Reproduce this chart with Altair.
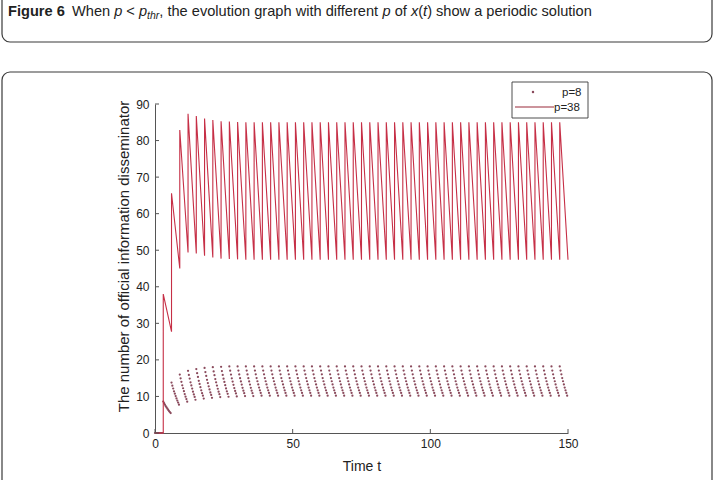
import altair as alt
import pandas as pd

# ---------------- data ----------------
# impulse times (period 3), series runs from t=0 to t=150
IMPULSE_TIMES = [3, 6, 9, 12, 15, 18, 21, 24, 27, 30, 33, 36, 39, 42, 45, 48, 51, 54, 57, 60,
                 63, 66, 69, 72, 75, 78, 81, 84, 87, 90, 93, 96, 99, 102, 105, 108, 111, 114,
                 117, 120, 123, 126, 129, 132, 135, 138, 141, 144, 147]

# p = 38 : value right after each impulse (peak) and right before the next one (trough)
PEAKS_38 = [38.0, 65.6, 82.9, 87.3, 86.7, 86.0, 85.6, 85.3, 85.2, 85.1,
            85.0, 85.0, 85.0, 85.0, 85.0, 85.0, 85.0, 85.0, 85.0, 85.0,
            85.0, 85.0, 85.0, 85.0, 85.0, 85.0, 85.0, 85.0, 85.0, 85.0,
            85.0, 85.0, 85.0, 85.0, 85.0, 85.0, 85.0, 85.0, 85.0, 85.0,
            85.0, 85.0, 85.0, 85.0, 85.0, 85.0, 85.0, 85.0, 85.0]
TROUGHS_38 = [27.7, 45.0, 49.4, 49.1, 48.5, 48.0, 47.7, 47.6, 47.5, 47.4,
              47.4, 47.4, 47.4, 47.4, 47.4, 47.4, 47.4, 47.4, 47.4, 47.4,
              47.4, 47.4, 47.4, 47.4, 47.4, 47.4, 47.4, 47.4, 47.4, 47.4,
              47.4, 47.4, 47.4, 47.4, 47.4, 47.4, 47.4, 47.4, 47.4, 47.4,
              47.4, 47.4, 47.4, 47.4, 47.4, 47.4, 47.4, 47.4, 47.4]

# p = 8 : same structure, drawn as dots
PEAKS_8 = [8.6, 13.8, 16.0, 17.0, 17.5, 17.8, 18.0, 18.1, 18.2, 18.2,
           18.2, 18.2, 18.2, 18.2, 18.2, 18.2, 18.2, 18.2, 18.2, 18.2,
           18.2, 18.2, 18.2, 18.2, 18.2, 18.2, 18.2, 18.2, 18.2, 18.2,
           18.2, 18.2, 18.2, 18.2, 18.2, 18.2, 18.2, 18.2, 18.2, 18.2,
           18.2, 18.2, 18.2, 18.2, 18.2, 18.2, 18.2, 18.2, 18.2]
TROUGHS_8 = [5.2, 7.3, 8.0, 8.5, 8.8, 9.0, 9.2, 9.3, 9.4, 9.5,
             9.5, 9.6, 9.6, 9.6, 9.6, 9.6, 9.6, 9.6, 9.6, 9.6,
             9.6, 9.6, 9.6, 9.6, 9.6, 9.6, 9.6, 9.6, 9.6, 9.6,
             9.6, 9.6, 9.6, 9.6, 9.6, 9.6, 9.6, 9.6, 9.6, 9.6,
             9.6, 9.6, 9.6, 9.6, 9.6, 9.6, 9.6, 9.6, 9.6]

# sampling of the dotted series inside one period (time offset, fraction of the fall)
DOT_OFFSETS = [0.0, 0.3, 0.6, 0.9, 1.2, 1.5, 1.8, 2.1, 2.4, 2.7]
DOT_FRACTIONS = [0.0, 0.13, 0.25, 0.37, 0.47, 0.57, 0.67, 0.76, 0.84, 0.93]

X_TICKS = [0, 50, 100, 150]
Y_TICKS = [0, 10, 20, 30, 40, 50, 60, 70, 80, 90]

SERIES_LABELS = ["p=8", "p=38"]
X_TITLE = "Time t"
Y_TITLE = "The number of official information disseminator"

# ---------------- tables ----------------
line_rows = [{"i": 0, "t": 0.0, "v": 0.0}, {"i": 1, "t": 3.0, "v": 0.0}]
for k, t0 in enumerate(IMPULSE_TIMES):
    line_rows.append({"i": len(line_rows), "t": float(t0), "v": PEAKS_38[k]})
    line_rows.append({"i": len(line_rows), "t": float(t0 + 3), "v": TROUGHS_38[k]})
df_line = pd.DataFrame(line_rows)

dot_rows = [{"t": off, "v": 0.0} for off in DOT_OFFSETS]
for k, t0 in enumerate(IMPULSE_TIMES):
    for off, fr in zip(DOT_OFFSETS, DOT_FRACTIONS):
        dot_rows.append({"t": t0 + off, "v": PEAKS_8[k] - fr * (PEAKS_8[k] - TROUGHS_8[k])})
df_dots = pd.DataFrame(dot_rows)

df_xt = pd.DataFrame({"t": X_TICKS})
df_yt = pd.DataFrame({"v": Y_TICKS})

# ---------------- styling ----------------
W, H = 413, 329
PAD = {"left": 155, "top": 104, "right": 147, "bottom": 47}
FONT = "Liberation Sans"
AXIS_COLOR = "#555555"
TEXT_COLOR = "#222222"
LINE_COLOR = "#c62f46"
DOT_COLOR = "#8a4a5c"
FRAME_COLOR = "#3a3a3a"

x_scale = alt.Scale(domain=[0, 150], nice=False, zero=False)
y_scale = alt.Scale(domain=[0, 90], nice=False)

x_axis = alt.Axis(values=X_TICKS, ticks=False, labelPadding=5, labelFontSize=12,
                  labelAngle=0, labelFlush=False, labelOverlap=False,
                  title=X_TITLE, titleY=33, titleBaseline="middle", titleFontSize=14,
                  titleFontWeight="normal", domainColor=AXIS_COLOR)
y_axis = alt.Axis(values=Y_TICKS, ticks=False, labelPadding=6, labelFontSize=12,
                  labelAngle=0, labelFlush=False, labelOverlap=False,
                  labelAlign="right", labelBaseline="middle",
                  title=Y_TITLE, titleX=-32, titleY=152, titleAngle=270,
                  titleAlign="center", titleBaseline="middle", titleFontSize=15,
                  titleFontWeight="normal", domainColor=AXIS_COLOR)

X_ENC = alt.X("t:Q", scale=x_scale, axis=x_axis, title=X_TITLE)
Y_ENC = alt.Y("v:Q", scale=y_scale, axis=y_axis, title=Y_TITLE)

one = alt.InlineData(values=[{"a": 1}])

# frames of the page (caption box and figure box)
frame_caption = alt.Chart(one).mark_rect(
    fillOpacity=0, stroke=FRAME_COLOR, strokeWidth=1.2, cornerRadius=8
).encode(x=alt.value(-153), x2=alt.value(557), y=alt.value(-140), y2=alt.value(-62))
frame_figure = alt.Chart(one).mark_rect(
    fillOpacity=0, stroke=FRAME_COLOR, strokeWidth=1.2, cornerRadius=8
).encode(x=alt.value(-153), x2=alt.value(557), y=alt.value(-32), y2=alt.value(420))

# caption, typeset piece by piece (Arial metrics)
WID = {' ': 278, '(': 333, ')': 333, ',': 278, '<': 584, '6': 556, 'F': 611, 'W': 944,
       'a': 556, 'c': 500, 'd': 556, 'e': 556, 'f': 278, 'g': 556, 'h': 556, 'i': 222,
       'l': 222, 'n': 556, 'o': 556, 'p': 556, 'r': 333, 's': 500, 't': 278, 'u': 556,
       'v': 500, 'w': 722, 'x': 500}
FS = 14.6
SUB = 10.5
segments = [
    ("When ", "normal", FS, 0),
    ("p", "italic", FS, 0),
    (" < ", "normal", FS, 0),
    ("p", "italic", FS, 0),
    ("thr", "italic", SUB, 3),
    (", the evolution graph with different ", "normal", FS, 0),
    ("p", "italic", FS, 0),
    (" of ", "normal", FS, 0),
    ("x", "italic", FS, 0),
    ("(", "normal", FS, 0),
    ("t", "italic", FS, 0),
    (")", "normal", FS, 0),
    (" show a periodic solution", "normal", FS, 0),
]
BASE_Y = 16 - PAD["top"]
caption_layers = [
    alt.Chart(one).mark_text(text="Figure 6", font=FONT, fontSize=FS, fontWeight="bold",
                             align="left", baseline="alphabetic", color=TEXT_COLOR)
    .encode(x=alt.value(8 - PAD["left"]), y=alt.value(BASE_Y))
]
cx = 72.0
for txt, style, size, dy in segments:
    lead = len(txt) - len(txt.lstrip(" "))
    x0 = cx + lead * WID[' '] * size / 1000.0
    caption_layers.append(
        alt.Chart(one).mark_text(text=txt.strip(" "), font=FONT, fontSize=size, fontStyle=style,
                                 align="left", baseline="alphabetic", color=TEXT_COLOR)
        .encode(x=alt.value(x0 - PAD["left"]), y=alt.value(BASE_Y + dy))
    )
    cx += sum(WID[c] for c in txt) * size / 1000.0

# data layers
dots = alt.Chart(df_dots).mark_circle(size=5, color=DOT_COLOR, opacity=1).encode(
    x=X_ENC, y=Y_ENC)
line = alt.Chart(df_line).mark_line(color=LINE_COLOR, strokeWidth=1.1).encode(
    x=X_ENC, y=Y_ENC, order="i:Q")

# inward ticks
xt = alt.Chart(df_xt).mark_rule(color=AXIS_COLOR, strokeWidth=1).encode(
    x=X_ENC, y=alt.value(H), y2=alt.value(H - 4))
yt = alt.Chart(df_yt).mark_rule(color=AXIS_COLOR, strokeWidth=1).encode(
    y=Y_ENC, x=alt.value(0), x2=alt.value(4))

# legend (MATLAB style box)
LX0, LX1, LY0, LY1 = 512 - 155, 588 - 155, 82 - 104, 118 - 104
leg_box = alt.Chart(one).mark_rect(fill="white", stroke=FRAME_COLOR, strokeWidth=0.9).encode(
    x=alt.value(LX0), x2=alt.value(LX1), y=alt.value(LY0), y2=alt.value(LY1))
leg_dot = alt.Chart(one).mark_circle(size=6, color=DOT_COLOR, opacity=1).encode(
    x=alt.value(533 - 155), y=alt.value(92 - 104))
leg_line = alt.Chart(one).mark_rule(color="#9a2a3a", strokeWidth=1.1).encode(
    x=alt.value(515 - 155), x2=alt.value(554 - 155), y=alt.value(107 - 104))
leg_t1 = alt.Chart(one).mark_text(text=SERIES_LABELS[0], font=FONT, fontSize=11.5, align="left",
                                  baseline="middle", color=TEXT_COLOR).encode(
    x=alt.value(562 - 155), y=alt.value(92.5 - 104))
leg_t2 = alt.Chart(one).mark_text(text=SERIES_LABELS[1], font=FONT, fontSize=11.5, align="left",
                                  baseline="middle", color=TEXT_COLOR).encode(
    x=alt.value(554 - 155), y=alt.value(107.5 - 104))

chart = alt.layer(
    dots, line, xt, yt,
    frame_caption, frame_figure, *caption_layers,
    leg_box, leg_dot, leg_line, leg_t1, leg_t2,
).properties(
    width=W, height=H, padding=PAD, autosize=alt.AutoSizeParams(type="none"),
    background="white",
).configure_view(stroke=None).configure_axis(
    grid=False, domainColor=AXIS_COLOR, domainWidth=1, labelColor=TEXT_COLOR,
    titleColor=TEXT_COLOR, labelFont=FONT, titleFont=FONT,
)

chart.save("out.html", embed_options={"renderer": "svg", "actions": False})
